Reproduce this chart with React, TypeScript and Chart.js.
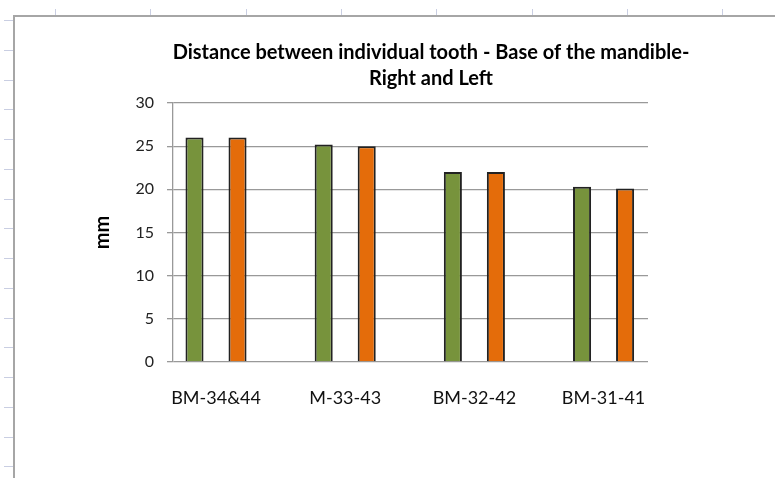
import React, { useEffect, useRef } from 'react';
import { Chart, registerables } from 'chart.js';

Chart.register(...registerables);

const categories = ['BM-34&44', 'M-33-43', 'BM-32-42', 'BM-31-41'];
const rightValues = [26.0, 25.2, 22.0, 20.3];
const leftValues = [26.0, 25.0, 22.0, 20.1];
const yTicks = [0, 5, 10, 15, 20, 25, 30];
const titleLines = ['Distance between individual tooth - Base of the mandible-', 'Right and Left'];
const yTitle = 'mm';

const topRulerCount = 8;
const leftRulerCount = 16;

export default function App() {
  const ref = useRef<HTMLCanvasElement | null>(null);

  useEffect(() => {
    const canvas = ref.current;
    if (!canvas) return;
    const chart = new Chart(canvas, {
      type: 'bar',
      data: {
        datasets: [
          {
            label: 'Right',
            data: rightValues.map((v, i) => ({ x: i, y: v })),
            backgroundColor: '#77933C',
            borderColor: '#222222',
            borderWidth: 2,
            categoryPercentage: 0.666,
            barPercentage: 0.42,
          },
          {
            label: 'Left',
            data: leftValues.map((v, i) => ({ x: i, y: v })),
            backgroundColor: '#E46C0A',
            borderColor: '#222222',
            borderWidth: 2,
            categoryPercentage: 0.666,
            barPercentage: 0.42,
          },
        ],
      },
      options: {
        responsive: false,
        animation: false,
        layout: { padding: { left: 72, right: 0, top: 0, bottom: 0 } },
        plugins: {
          legend: { display: false },
          tooltip: { enabled: false },
          title: {
            display: true,
            text: titleLines,
            color: '#000',
            font: { family: 'Lato', size: 20, weight: 'bold', lineHeight: 26 / 20 },
            padding: { top: 23, bottom: 11 },
          },
        },
        scales: {
          x: {
            type: 'linear',
            min: -0.333,
            max: 3.344,
            offset: false,
            grid: { display: false },
            border: { display: false },
            afterBuildTicks: (s: any) => {
              s.ticks = categories.map((_, i) => ({ value: i }));
            },
            afterFit: (s: any) => {
              s.height = 55;
            },
            ticks: {
              callback: (v: any) => categories[v] ?? '',
              color: '#111',
              font: { family: 'Lato', size: 18 },
              padding: 17,
              maxRotation: 0,
              autoSkip: false,
            },
          },
          y: {
            min: 0,
            max: 30,
            afterBuildTicks: (s: any) => {
              s.ticks = yTicks.map((v) => ({ value: v }));
            },
            afterFit: (s: any) => {
              s.width = 86;
            },
            grid: { color: '#999999', lineWidth: 1.3, tickLength: 6 },
            border: { color: '#999999', width: 1.3 },
            ticks: { color: '#222', font: { family: 'Lato', size: 16 }, padding: 13 },
            title: {
              display: true,
              text: yTitle,
              color: '#000',
              font: { family: 'Lato', size: 20, weight: 'bold' },
              padding: { top: 4, bottom: 0 },
            },
          },
          y2: {
            position: 'right',
            display: true,
            grid: { display: false, drawTicks: false },
            border: { display: false },
            ticks: { display: false },
            afterFit: (s: any) => {
              s.width = 127;
            },
          },
        },
      } as any,
    });
    return () => chart.destroy();
  }, []);

  const topTicks = Array.from({ length: topRulerCount }, (_, i) => 55 + i * 95.3);
  const leftTicks = Array.from({ length: leftRulerCount }, (_, i) => 20 + i * 29.76);

  return (
    <div
      style={{
        position: 'fixed',
        left: 0,
        top: 0,
        width: 775,
        height: 478,
        background: '#fff',
        overflow: 'hidden',
      }}
    >
      {topTicks.map((x, i) => (
        <div
          key={'t' + i}
          style={{ position: 'absolute', left: Math.round(x), top: 9, width: 1, height: 6, background: '#c9cee2' }}
        />
      ))}
      {leftTicks.map((y, i) => (
        <div
          key={'l' + i}
          style={{ position: 'absolute', left: 4, top: Math.round(y), width: 9, height: 1, background: '#c9cee2' }}
        />
      ))}
      <div
        style={{
          position: 'absolute',
          left: 13,
          top: 15,
          width: 780,
          height: 480,
          borderTop: '2px solid #a6a6a6',
          borderLeft: '2px solid #a6a6a6',
        }}
      />
      <canvas
        ref={ref}
        width={760}
        height={400}
        style={{ position: 'absolute', left: 15, top: 17, width: 760, height: 400 }}
      />
    </div>
  );
}
